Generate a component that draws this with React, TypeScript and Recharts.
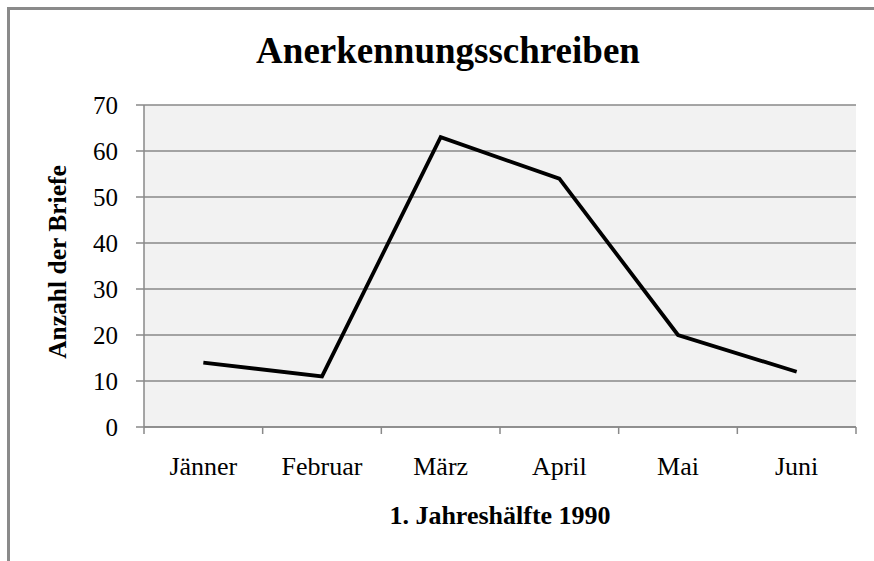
import React from "react";
import { LineChart, Line, XAxis, YAxis, CartesianGrid, Label } from "recharts";

const months = ["Jänner", "Februar", "März", "April", "Mai", "Juni"];
const letters = [14, 11, 63, 54, 20, 12];
const yTicks = [0, 10, 20, 30, 40, 50, 60, 70];
const xTickPositions = [-0.5, 0, 0.5, 1, 1.5, 2, 2.5, 3, 3.5, 4, 4.5, 5, 5.5];

const chartTitle = "Anerkennungsschreiben";
const xTitle = "1. Jahreshälfte 1990";
const yTitle = "Anzahl der Briefe";

const data = months.map((m, i) => ({ idx: i, month: m, value: letters[i] }));

const FONT = "'Liberation Serif', 'Times New Roman', serif";
const GRID = "#898989";

function XTick(props: any) {
  const { x, y, payload } = props;
  const v = payload.value;
  if (Number.isInteger(v)) {
    return (
      <text x={x} y={y + 48} textAnchor="middle" fontSize={26} fontFamily={FONT} fill="#000">
        {months[v]}
      </text>
    );
  }
  return <line x1={x} y1={y} x2={x} y2={y + 7} stroke={GRID} strokeWidth={1.5} />;
}

export default function App() {
  return (
    <div
      style={{
        position: "absolute",
        left: 0,
        top: 0,
        width: 874,
        height: 561,
        overflow: "hidden",
        background: "#fff",
      }}
    >
      <div
        style={{
          position: "absolute",
          left: 7,
          top: 7,
          width: 1000,
          height: 700,
          border: "3px solid #8a8a8a",
        }}
      />
      <div
        style={{
          position: "absolute",
          left: 7,
          width: 882,
          top: 29,
          textAlign: "center",
          fontFamily: FONT,
          fontWeight: "bold",
          fontSize: 37,
          lineHeight: "44px",
          color: "#000",
        }}
      >
        {chartTitle}
      </div>
      <div style={{ position: "absolute", left: 0, top: 0 }}>
        <LineChart
          width={874}
          height={561}
          data={data}
          margin={{ top: 105, right: 18, bottom: 74, left: 64 }}
        >
          <CartesianGrid
            vertical={false}
            horizontal={true}
            fill="#f2f2f2"
            stroke={GRID}
            strokeWidth={1.5}
          />
          <XAxis
            dataKey="idx"
            type="number"
            domain={[-0.5, 5.5]}
            ticks={xTickPositions}
            interval={0}
            height={60}
            tickSize={0}
            tickMargin={0}
            tickLine={false}
            axisLine={{ stroke: GRID, strokeWidth: 1.5 }}
            tick={<XTick />}
          >
            <Label
              content={(p: any) => {
                const vb = p.viewBox || {};
                const cx = (vb.x ?? 144) + (vb.width ?? 712) / 2;
                return (
                  <text
                    x={cx}
                    y={524}
                    textAnchor="middle"
                    fontSize={26}
                    fontWeight="bold"
                    fontFamily={FONT}
                    fill="#000"
                  >
                    {xTitle}
                  </text>
                );
              }}
            />
          </XAxis>
          <YAxis
            type="number"
            domain={[0, 70]}
            ticks={yTicks}
            interval={0}
            width={80}
            tickSize={8}
            tickMargin={18}
            axisLine={{ stroke: GRID, strokeWidth: 1.5 }}
            tickLine={{ stroke: GRID, strokeWidth: 1.5 }}
            tick={{ fontSize: 25, fontFamily: FONT, fill: "#000" }}
          >
            <Label
              content={() => (
                <text
                  x={66}
                  y={262}
                  transform="rotate(-90, 66, 262)"
                  textAnchor="middle"
                  fontSize={25.5}
                  fontWeight="bold"
                  fontFamily={FONT}
                  fill="#000"
                >
                  {yTitle}
                </text>
              )}
            />
          </YAxis>
          <Line
            dataKey="value"
            type="linear"
            stroke="#000"
            strokeWidth={3.8}
            dot={false}
            activeDot={false}
            isAnimationActive={false}
          />
        </LineChart>
      </div>
    </div>
  );
}
